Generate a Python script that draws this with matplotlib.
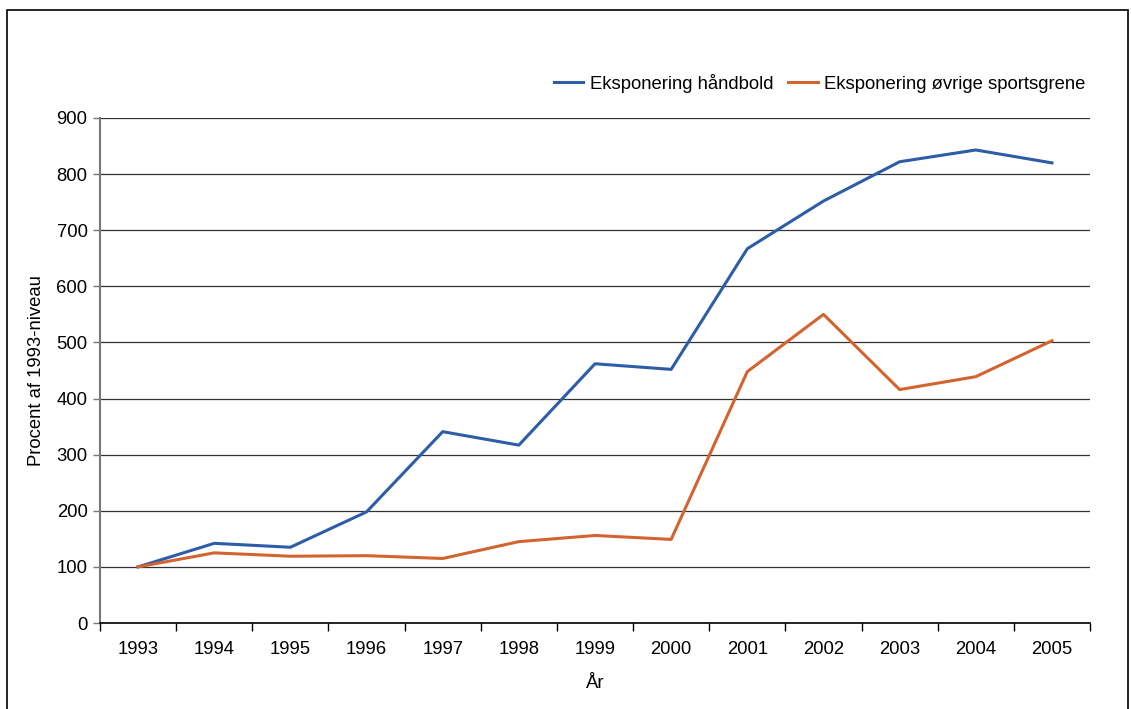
import numpy as np
import matplotlib
matplotlib.use('Agg')
from matplotlib import pyplot as plt
from matplotlib.patches import Rectangle

years = ['1993', '1994', '1995', '1996', '1997', '1998', '1999',
         '2000', '2001', '2002', '2003', '2004', '2005']
haandbold = [100, 142, 135, 198, 341, 317, 462, 452, 667, 752, 822, 843, 820]
oevrige = [100, 125, 119, 120, 115, 145, 156, 149, 448, 550, 416, 439, 503]
label_haandbold = 'Eksponering håndbold'
label_oevrige = 'Eksponering øvrige sportsgrene'

plt.rcParams['font.family'] = ['Liberation Sans', 'DejaVu Sans']
fs = 13.3

W, H = 1131, 709
fig = plt.figure(figsize=(W / 100, H / 100), dpi=100)
ax = fig.add_axes([100 / W, 1 - 623 / H, 990 / W, 505 / H])

# frame round the whole chart
fig.patches.append(Rectangle((7 / W, -0.05), 1121 / W, 1 - 10 / H + 0.05,
                             transform=fig.transFigure, fill=False,
                             edgecolor='black', linewidth=1.2))

x = np.arange(len(years))
ax.plot(x, haandbold, color='#2D5DA8', linewidth=2.2, label=label_haandbold)
ax.plot(x, oevrige, color='#D2642F', linewidth=2.2, label=label_oevrige)

ax.set_xlim(-0.5, len(years) - 0.5)
ax.set_ylim(0, 900)
ax.set_yticks(range(0, 901, 100))
ax.yaxis.grid(True, color='#333333', linewidth=0.9)
ax.set_axisbelow(True)

# category ticks sit between the years
ax.set_xticks(np.arange(-0.5, len(years), 1.0))
ax.set_xticklabels([])
ax.set_xticks(x, minor=True)
ax.set_xticklabels(years, minor=True, fontsize=fs)
ax.tick_params(axis='x', which='minor', length=0, pad=13)
ax.tick_params(axis='x', which='major', length=6, width=1, color='black', direction='out')
ax.tick_params(axis='y', length=5, width=1, color='#777777', labelsize=fs, pad=4)

for s in ['top', 'right']:
    ax.spines[s].set_visible(False)
ax.spines['left'].set_color('#777777')
ax.spines['left'].set_linewidth(1.5)
ax.spines['bottom'].set_color('black')
ax.spines['bottom'].set_linewidth(1.2)

ax.set_xlabel('År', fontsize=fs, labelpad=12)
ax.set_ylabel('Procent af 1993-niveau', fontsize=fs, labelpad=8)

ax.legend(loc='lower right', bbox_to_anchor=(1.003, 1.035), ncol=2, frameon=False,
          fontsize=fs, handlelength=1.6, handletextpad=0.35, columnspacing=0.8,
          borderaxespad=0)

fig.savefig('out.png', dpi=100)
